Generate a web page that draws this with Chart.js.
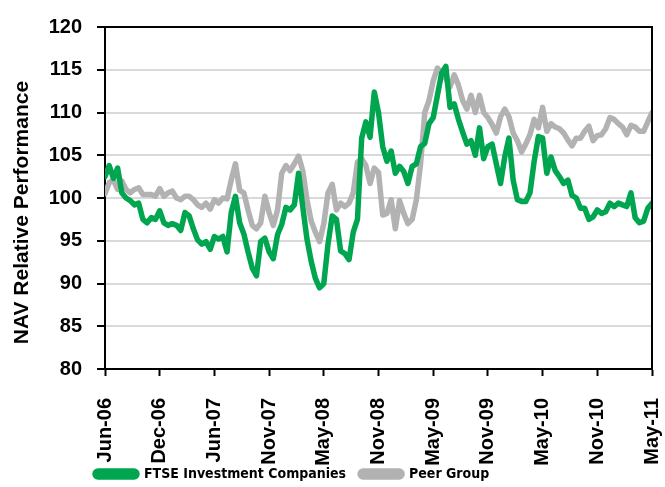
<!DOCTYPE html>
<html>
<head>
<meta charset="utf-8">
<script src="https://cdn.jsdelivr.net/npm/chart.js@4.4.1/dist/chart.umd.min.js"></script>
<style>
  html, body { margin: 0; padding: 0; background: #fff; }
  #wrap { width: 665px; height: 487px; }
</style>
</head>
<body>
<div id="wrap"><canvas id="nav_chart" width="665" height="487"></canvas></div>
<script>
// fortnightly points, first one 2 Jun 2006, last one 27 May 2011
const startDate = Date.UTC(2006, 5, 2);
const stepDays = 14;
const tickEvery = 13; // one tick label every 26 weeks
const monthNames = ['Jan', 'Feb', 'Mar', 'Apr', 'May', 'Jun', 'Jul', 'Aug', 'Sep', 'Oct', 'Nov', 'Dec'];

const seriesNames = ['FTSE Investment Companies', 'Peer Group'];

const ftseValues = [
  102.5, 103.8, 102.3, 103.5, 100.6, 100.0, 99.7, 99.2, 99.4, 97.5,
  97.1, 97.7, 97.5, 98.5, 97.1, 96.8, 97.0, 96.8, 96.2, 98.3,
  97.9, 96.4, 95.1, 94.6, 94.9, 94.0, 95.5, 95.2, 95.5, 93.7,
  98.3, 100.2, 97.1, 95.8, 93.7, 91.8, 90.9, 94.9, 95.3, 93.7,
  92.9, 95.7, 96.9, 98.9, 98.6, 99.2, 102.9, 99.0, 95.2, 92.6,
  90.6, 89.5, 90.0, 94.6, 97.9, 97.5, 93.8, 93.5, 92.8, 96.0,
  97.5, 107.0, 108.9, 107.1, 112.4, 110.0, 106.0, 104.3, 105.5, 102.9,
  103.7, 103.1, 101.7, 103.7, 104.0, 106.0, 106.4, 108.7, 109.4, 112.0,
  114.6, 115.4, 110.6, 111.0, 109.2, 107.7, 106.3, 106.7, 105.0, 108.2,
  104.6, 106.0, 106.3, 104.0, 101.7, 104.8, 107.0, 102.1, 99.8, 99.6,
  99.6, 100.6, 104.3, 107.2, 107.0, 102.9, 104.8, 103.2, 102.5, 101.7,
  102.1, 100.3, 100.0, 98.8, 98.8, 97.5, 97.8, 98.6, 98.2, 98.4,
  99.4, 99.0, 99.4, 99.2, 99.0, 100.6, 97.7, 97.1, 97.3, 98.8,
  99.4
];

const peerValues = [
  100.5, 101.8, 102.1, 101.0, 102.0, 101.0, 100.6, 101.0, 101.2, 100.4,
  100.4, 100.4, 100.2, 101.1, 100.2, 100.6, 100.8, 100.0, 99.8, 100.2,
  100.2, 99.8, 99.2, 98.9, 99.4, 98.7, 99.8, 99.4, 100.0, 99.9,
  102.1, 104.0, 100.9, 100.6, 98.6, 96.8, 96.4, 97.1, 100.2, 98.3,
  96.8, 98.6, 102.9, 103.8, 103.2, 104.0, 104.9, 103.2, 99.8, 97.3,
  96.0, 94.9, 97.0, 100.6, 101.6, 98.6, 99.4, 99.0, 99.4, 100.6,
  104.2, 104.6, 103.8, 101.7, 103.5, 103.0, 98.0, 98.2, 99.8, 96.4,
  99.7, 98.2, 97.0, 97.5, 99.8, 104.0, 110.0, 111.4, 113.7, 115.2,
  114.6, 114.0, 113.0, 114.4, 113.2, 111.4, 110.4, 112.0, 110.0, 112.0,
  110.0, 109.4, 108.6, 107.6, 109.5, 110.4, 109.5, 107.6, 106.7, 105.4,
  106.3, 107.4, 109.2, 108.2, 110.6, 107.8, 108.7, 108.3, 108.1, 107.6,
  106.8, 106.1, 107.0, 107.0, 107.8, 108.4, 106.7, 107.3, 107.4, 108.1,
  109.4, 109.2, 108.7, 108.3, 107.4, 108.5, 108.3, 107.8, 107.8, 108.9,
  110.0
];

// y axis range
const yMin = 80;
const yMax = 120;
const yStep = 5;

// date labels like "Jun-06"
const dateLabels = ftseValues.map((_, i) => {
  const d = new Date(startDate + i * stepDays * 86400000);
  return monthNames[d.getUTCMonth()] + '-' + String(d.getUTCFullYear()).slice(2);
});

const toPoints = arr => arr.map((v, i) => ({ x: i, y: v }));

// frame on top/right of the plot + legend placement
const framePlugin = {
  id: 'framePlugin',
  afterLayout(chart) {
    const lg = chart.legend;
    if (!lg) return;
    const pad = lg.options.labels.padding;
    const dx = 95 - (lg.left + pad);
    lg.left += dx;
    lg.right += dx;
    const dy = 453 - lg.top;
    lg.top += dy;
    lg.bottom += dy;
  },
  afterDatasetsDraw(chart) {
    const { ctx, chartArea: a } = chart;
    ctx.save();
    ctx.strokeStyle = '#000';
    ctx.lineWidth = 2;
    ctx.beginPath();
    ctx.moveTo(a.left, a.top);
    ctx.lineTo(a.right, a.top);
    ctx.lineTo(a.right, a.bottom);
    ctx.stroke();
    ctx.restore();
  }
};

const narrowFont = "'DejaVu Sans Condensed', 'Liberation Sans', sans-serif";
const wideFont = "'Liberation Sans', Arial, sans-serif";

new Chart(document.getElementById('nav_chart').getContext('2d'), {
  type: 'line',
  data: {
    datasets: [
      {
        label: seriesNames[0],
        data: toPoints(ftseValues),
        borderColor: '#00a550',
        backgroundColor: '#00a550',
        borderWidth: 5.5,
        pointRadius: 0,
        tension: 0,
        borderJoinStyle: 'round',
        borderCapStyle: 'round'
      },
      {
        label: seriesNames[1],
        data: toPoints(peerValues),
        borderColor: '#b2b2b2',
        backgroundColor: '#b2b2b2',
        borderWidth: 5.5,
        pointRadius: 0,
        tension: 0,
        borderJoinStyle: 'round',
        borderCapStyle: 'round'
      }
    ]
  },
  options: {
    responsive: false,
    animation: false,
    devicePixelRatio: 1,
    layout: { padding: { left: 8, right: 13, top: 20, bottom: -20 } },
    scales: {
      x: {
        type: 'linear',
        min: 0,
        max: ftseValues.length - 1,
        afterFit: s => {
          s.height = 100;
          s.paddingRight = 0;
          s.paddingLeft = 0;
        },
        afterBuildTicks: s => {
          s.ticks = dateLabels.map((_, i) => i).filter(i => i % tickEvery === 0).map(v => ({ value: v }));
        },
        border: { display: true, color: '#000', width: 2 },
        grid: {
          drawOnChartArea: false,
          drawTicks: true,
          tickLength: 7,
          tickColor: '#000',
          tickWidth: 2
        },
        ticks: {
          autoSkip: false,
          maxRotation: 90,
          minRotation: 90,
          padding: 22,
          color: '#000',
          font: { family: wideFont, size: 20, weight: 'bold' },
          callback: v => dateLabels[v]
        }
      },
      y: {
        min: yMin,
        max: yMax,
        afterFit: s => { s.width = 97; },
        border: { display: true, color: '#000', width: 2 },
        grid: {
          color: '#d9d9d9',
          lineWidth: 2,
          tickLength: 8,
          tickColor: '#000',
          tickWidth: 2
        },
        ticks: {
          stepSize: yStep,
          padding: 15,
          color: '#000',
          font: { family: wideFont, size: 20, weight: 'bold' }
        },
        title: {
          display: true,
          // trailing spaces nudge the title a little lower, as in the original
          text: 'NAV Relative Performance     ',
          color: '#000',
          padding: { top: 2, bottom: 0 },
          font: { family: wideFont, size: 21, weight: 'bold' }
        }
      }
    },
    plugins: {
      legend: {
        position: 'bottom',
        align: 'start',
        labels: {
          color: '#000',
          boxWidth: 42,
          boxHeight: 6,
          padding: 14,
          useBorderRadius: true,
          borderRadius: 3,
          font: { family: narrowFont, size: 14, weight: 'bold' }
        }
      },
      tooltip: { enabled: false }
    }
  },
  plugins: [framePlugin]
});
</script>
</body>
</html>
